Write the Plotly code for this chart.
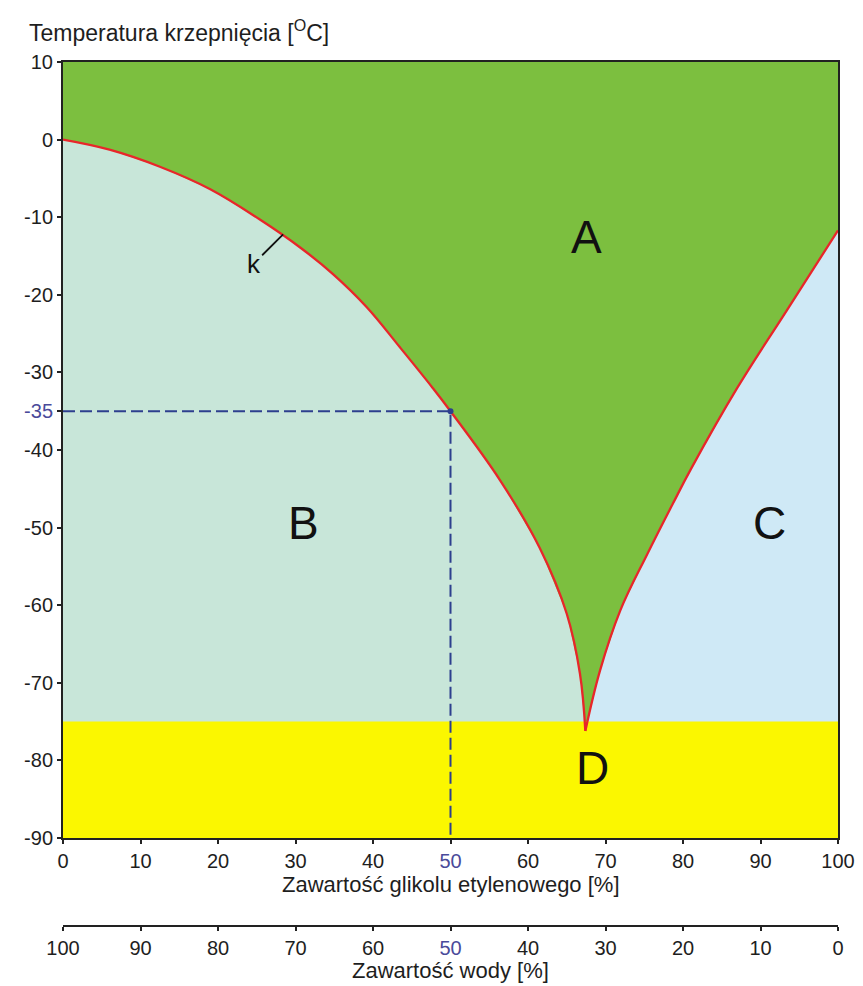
import plotly.graph_objects as go

# Left freezing curve (glycol %, temperature °C)
left_x = [0, 6, 12.5, 19, 25.4, 30.6, 34.8, 39.2, 43.5, 47.7, 50, 56.4, 61.5, 65, 66.7, 67.4]
left_t = [0, -1.3, -3.5, -6.4, -10.3, -13.9, -17.3, -21.6, -26.8, -32, -35, -43.9, -52.6, -61.1, -68.8, -76.2]
# Right freezing curve
right_x = [67.4, 69.3, 71.9, 75.4, 78.7, 81, 87, 93.4, 100]
right_t = [-76.2, -68.4, -60.7, -53.4, -46.9, -42.5, -32, -22, -11.7]

d_level = -75
x_ticks = [0, 10, 20, 30, 40, 50, 60, 70, 80, 90, 100]
y_ticks = [10, 0, -10, -20, -30, -35, -40, -50, -60, -70, -80, -90]
marked_x = 50
marked_t = -35

region_labels = ["A", "B", "C", "D"]
region_x = [67.6, 31, 91.2, 68.3]
region_t = [-12.6, -49.4, -49.4, -81]

GREEN = "#7cbf3f"
B_COL = "#c8e6d9"
C_COL = "#cfe9f6"
YELLOW = "#fbf700"
RED = "#e8262a"
BLUE = "#2d3f8e"
TICKBLUE = "#4a4a9a"
FONT = "Liberation Sans, Arial, sans-serif"
TXT = "#1e1e1e"

fig = go.Figure()

fig.add_trace(go.Scatter(x=left_x + [0], y=left_t + [left_t[-1]], fill="toself",
                         fillcolor=B_COL, line=dict(width=0), mode="lines",
                         hoverinfo="skip", showlegend=False))
fig.add_trace(go.Scatter(x=right_x + [100], y=right_t + [right_t[0]], fill="toself",
                         fillcolor=C_COL, line=dict(width=0), mode="lines",
                         hoverinfo="skip", showlegend=False))
fig.add_trace(go.Scatter(x=[0, 100, 100, 0, 0], y=[d_level, d_level, -90, -90, d_level],
                         fill="toself", fillcolor=YELLOW, line=dict(width=0), mode="lines",
                         hoverinfo="skip", showlegend=False))
fig.add_trace(go.Scatter(x=[0, marked_x, marked_x], y=[marked_t, marked_t, -90], mode="lines",
                         line=dict(color=BLUE, width=2, dash="12px,5px"),
                         hoverinfo="skip", showlegend=False))
fig.add_trace(go.Scatter(x=left_x, y=left_t, mode="lines",
                         line=dict(color=RED, width=2.3, shape="spline", smoothing=1.1),
                         hoverinfo="skip", showlegend=False))
fig.add_trace(go.Scatter(x=right_x, y=right_t, mode="lines",
                         line=dict(color=RED, width=2.3, shape="spline", smoothing=1.1),
                         hoverinfo="skip", showlegend=False))
fig.add_trace(go.Scatter(x=[marked_x], y=[marked_t], mode="markers",
                         marker=dict(color=BLUE, size=6), hoverinfo="skip", showlegend=False))
fig.add_trace(go.Scatter(x=[0, 100], y=[None, None], xaxis="x2", mode="lines",
                         hoverinfo="skip", showlegend=False))

for lab, lx, lt in zip(region_labels, region_x, region_t):
    fig.add_annotation(x=lx, y=lt, text=lab, showarrow=False, xanchor="center", yanchor="middle",
                       font=dict(size=46, color="#111111", family=FONT))

fig.add_annotation(x=28.4, y=-12.2, ax=24.6, ay=-16.0, axref="x", ayref="y",
                   text="k", showarrow=True, arrowhead=0, arrowwidth=1.8, arrowcolor="#111111",
                   font=dict(size=26, color="#111111", family=FONT))

def colored(vals, mark):
    out = []
    for v in vals:
        s = str(v)
        if v == mark:
            s = f"<span style='color:{TICKBLUE}'>{s}</span>"
        out.append(s)
    return out

# page has an 8px body margin
OFF = 8
W, H = 863 - OFF, 986 - OFF
ml, mr, mt, mb = 63 - OFF, 25, 62 - OFF, 40
paper_top = 62
paper_bottom = OFF + H - mb  # 946
ph = paper_bottom - paper_top

def py(p):
    return (paper_bottom - p) / ph

def px(p):
    return (p - 63) / (838 - 63)

axis_common = dict(showline=True, linecolor="#222222", linewidth=2,
                   ticks="outside", ticklen=4, tickwidth=1.5, tickcolor="#222222",
                   showgrid=False, zeroline=False, fixedrange=True,
                   tickfont=dict(size=20, color=TXT))

fig.update_layout(
    width=W, height=H,
    margin=dict(l=ml, r=mr, t=mt, b=mb, autoexpand=False),
    paper_bgcolor="white",
    plot_bgcolor=GREEN,
    font=dict(family=FONT, size=20, color=TXT),
    xaxis=dict(range=[0, 100], tickvals=x_ticks, ticktext=colored(x_ticks, marked_x),
               mirror=True, anchor="y", **axis_common),
    yaxis=dict(range=[-90, 10], domain=[py(838), 1], tickvals=y_ticks,
               ticktext=colored(y_ticks, marked_t), mirror=True, **axis_common),
    xaxis2=dict(range=[100, 0], overlaying="x", anchor="free", position=py(926), side="bottom",
                tickvals=x_ticks, ticktext=colored(x_ticks, marked_x), **axis_common),
)

fig.add_annotation(xref="paper", yref="paper", x=0.5, y=py(884), xanchor="center", yanchor="middle",
                   text="Zawartość glikolu etylenowego [%]",
                   showarrow=False, font=dict(size=22, family=FONT, color=TXT))
fig.add_annotation(xref="paper", yref="paper", x=0.5, y=py(971), xanchor="center", yanchor="middle",
                   text="Zawartość wody [%]",
                   showarrow=False, font=dict(size=22, family=FONT, color=TXT))
fig.add_annotation(xref="paper", yref="paper", x=px(27), y=py(31), xanchor="left", yanchor="middle",
                   text="Temperatura krzepnięcia [<sup>O</sup>C]",
                   showarrow=False, font=dict(size=23, family=FONT, color=TXT))

fig.write_html("out.html")
